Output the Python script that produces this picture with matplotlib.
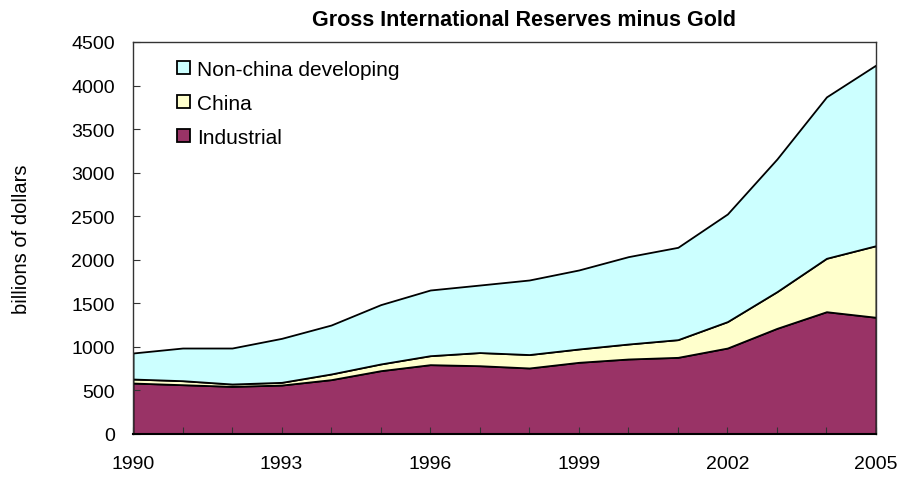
import matplotlib.pyplot as plt

years = list(range(1990, 2006))
industrial = [585, 566, 547, 562, 624, 727, 796, 784, 758, 823, 861, 880, 987, 1213, 1404, 1340]
china = [46, 46, 27, 31, 65, 77, 103, 151, 154, 153, 172, 203, 303, 421, 613, 822]
non_china = [299, 375, 413, 505, 562, 681, 754, 775, 856, 907, 1003, 1060, 1236, 1523, 1853, 2074]
labels = ["Industrial", "China", "Non-china developing"]
colors = ["#993366", "#FFFFCC", "#CCFFFF"]

plt.rcParams["font.family"] = ["Liberation Sans", "DejaVu Sans"]

fig = plt.figure(figsize=(9.01, 4.81), dpi=100)
ax = fig.add_axes([133 / 901, 1 - 435 / 481, (876 - 133) / 901, (435 - 43) / 481])

ax.stackplot(years, industrial, china, non_china, colors=colors, labels=labels,
             edgecolor="black", linewidth=1.3)

ax.set_xlim(1990, 2005)
ax.set_ylim(0, 4500)
ax.set_yticks(range(0, 4501, 500))
ax.set_xticks(years)
ax.set_xticklabels([str(y) if (y - 1990) % 3 == 0 else "" for y in years])
ax.tick_params(direction="in", length=5, labelsize=14, color="#333333")
ax.tick_params(axis="y", pad=13)
ax.tick_params(axis="x", pad=15)
for side in ["top", "right", "left"]:
    ax.spines[side].set_color("#333333")
    ax.spines[side].set_linewidth(1)
ax.spines["bottom"].set_linewidth(1.5)

ax.set_ylabel("billions of dollars", fontsize=14.5)
ax.yaxis.set_label_coords(-0.137, 0.5)
ax.set_title("Gross International Reserves minus Gold", fontsize=15.5, fontweight="bold",
             x=0.526, pad=12)

handles, labs = ax.get_legend_handles_labels()
ax.legend(handles[::-1], labs[::-1], loc="upper left", bbox_to_anchor=(0.034, 1.003),
          frameon=False, fontsize=15, handlelength=0.6, handleheight=0.6,
          handletextpad=0.35, labelspacing=0.72)

plt.savefig("out.png", dpi=100)
